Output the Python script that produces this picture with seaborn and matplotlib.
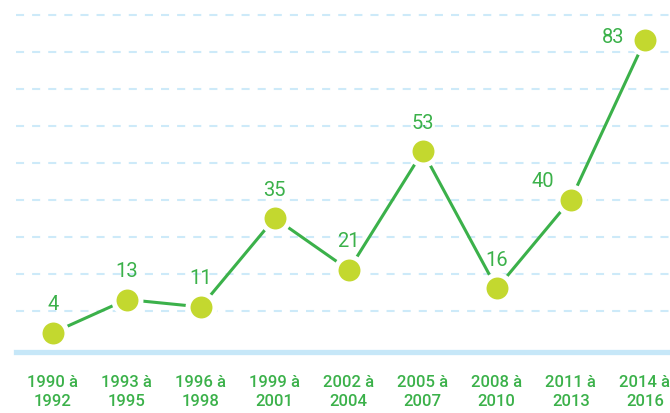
import matplotlib
matplotlib.use("Agg")
import matplotlib.pyplot as plt
import seaborn as sns
import pandas as pd

periods = ["1990 à\n1992", "1993 à\n1995", "1996 à\n1998", "1999 à\n2001", "2002 à\n2004",
           "2005 à\n2007", "2008 à\n2010", "2011 à\n2013", "2014 à\n2016"]
values = [4, 13, 11, 35, 21, 53, 16, 40, 83]
grid_levels = [10, 20, 30, 40, 50, 60, 70, 80, 90]

sns.set_theme(style="white")
plt.rcParams['font.family'] = ['Roboto', 'DejaVu Sans']
plt.rcParams['lines.scale_dashes'] = False

GREEN = "#3bb14a"
LIME = "#c3d82f"
BLUE = "#c6e7f8"

fig = plt.figure(figsize=(6.7, 4.14), dpi=100)
ax = fig.add_axes([16/670, 1 - 352.7/414, 1 - 16/670, 352.7/414])

df = pd.DataFrame({"pos": list(range(len(values))), "val": values})

for g in grid_levels:
    ax.axhline(g, color="#cdeaf9", lw=1.5, linestyle=(0, (5.8, 5.8)), zorder=1)

sns.lineplot(data=df, x="pos", y="val", ax=ax, color=GREEN, lw=2.2,
             marker="o", markersize=19.4, markerfacecolor=LIME,
             markeredgecolor="white", markeredgewidth=3.6, zorder=3)

offsets = {8: (-32, 4), 7: (-28, 19)}
for i, v in enumerate(values):
    dx, dy = offsets.get(i, (0, 29))
    ax.annotate(str(v), (i, v), xytext=(dx * 0.72, dy * 0.72), textcoords="offset points",
                ha="center", va="center", fontsize=14.5, color=GREEN)

ax.set_xlim(-0.496, 8.34)
ax.set_ylim(-1.1, 94.2)
ax.set_xticks(range(len(periods)))
ax.set_xticklabels(periods, fontsize=12, color=GREEN, linespacing=1.3, fontweight="medium")
ax.tick_params(axis="x", length=0, pad=16)
ax.set_yticks([])
ax.set_xlabel("")
ax.set_ylabel("")
for s in ["top", "right", "left"]:
    ax.spines[s].set_visible(False)
ax.spines["bottom"].set_color(BLUE)
ax.spines["bottom"].set_linewidth(3.8)

fig.savefig("out.png", dpi=100)
